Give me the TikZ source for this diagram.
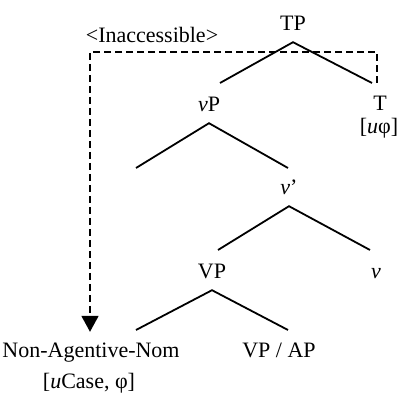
\documentclass[tikz,border=0pt]{standalone}
\usepackage{fontspec}
\setmainfont{Liberation Serif}
\usetikzlibrary{arrows.meta}

\begin{document}
\begin{tikzpicture}[
    x=1pt, y=-1pt,
    cat/.style={inner sep=0pt, anchor=base, text height=26pt, text depth=11pt,
                font=\fontsize{22}{26}\selectfont},
    feat/.style={inner sep=0pt, anchor=base, font=\fontsize{22}{26}\selectfont},
    branch/.style={line width=1.8pt},
    access/.style={line width=1.8pt, dash pattern=on 7pt off 4pt,
                   -{Triangle[length=16pt, width=17pt]}}
  ]
  \useasboundingbox (0,0) rectangle (400,395);

  % Labels
  \node[feat] (inacc) at (152,43) {<Inaccessible>};
  \node[cat] (tp) at (293,31) {TP};
  \node[cat] (vp) at (209,112) {\textit{v}P};
  \node[feat] (t) at (380,111) {T};
  \node[feat] (tfeat) at (379,134) {[\textit{u}φ]};
  \node[cat] (vbar) at (289,195) {\textit{v}'};
  \node[cat] (bigvp) at (212,279) {VP};
  \node[cat] (v) at (376,279) {\textit{v}};
  \node[cat] (nom) at (91,358) {Non-Agentive-Nom};
  \node[cat] (vpap) at (279,358) {VP / AP};
  \node[feat] (nomfeat) at (89,389) {[\textit{u}Case, φ]};

  % Branch ends
  \coordinate (vp-end) at (220,83);
  \coordinate (t-end) at (372,83);
  \coordinate (spec) at (136,168);
  \coordinate (vbar-end) at (288,168);
  \coordinate (bigvp-end) at (218,250);
  \coordinate (v-end) at (370,250);
  \coordinate (nom-end) at (136,330);
  \coordinate (vpap-end) at (288,330);

  % Branches
  \draw[branch] (vp-end) -- (tp.south) -- (t-end);
  \draw[branch] (spec) -- (vp.south) -- (vbar-end);
  \draw[branch] (bigvp-end) -- (vbar.south) -- (v-end);
  \draw[branch] (nom-end) -- (bigvp.south) -- (vpap-end);

  % Inaccessible domain
  \coordinate (dash-start) at (377,83);
  \coordinate (dash-corner) at (90,52);
  \draw[access] (dash-start) |- (dash-corner) -- (dash-corner |- nom.north);
\end{tikzpicture}
\end{document}
